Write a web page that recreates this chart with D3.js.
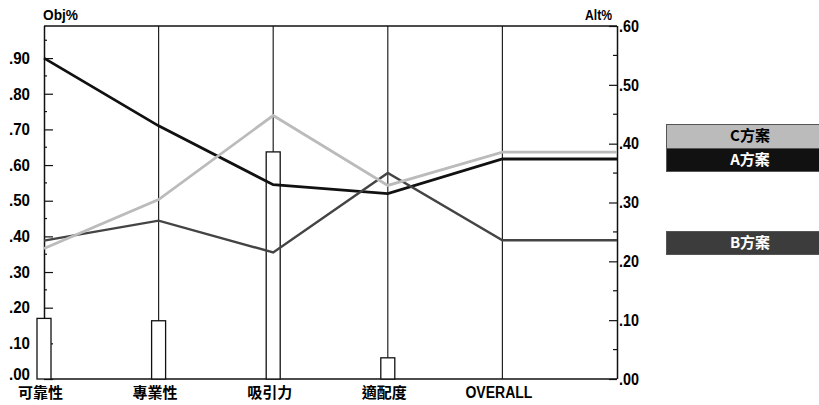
<!DOCTYPE html>
<html><head><meta charset="utf-8">
<script src="https://cdn.jsdelivr.net/npm/d3@7"></script>
<style>
html,body{margin:0;padding:0;background:#fff;}
svg{display:block;}
.num{font-family:"Liberation Sans Narrow","Liberation Sans",Arial,sans-serif;font-weight:bold;font-size:16px;fill:#000;}
.cjk{font-family:"Noto Sans CJK TC","Noto Sans CJK SC",sans-serif;font-weight:bold;font-size:15px;}
</style></head>
<body>
<svg id="c" width="819" height="405"></svg>
<script>
const categories = ["可靠性","專業性","吸引力","適配度","OVERALL"];
const seriesNames = ["A方案","B方案","C方案"];
const seriesA = [0.90, 0.71, 0.545, 0.52, 0.617];
const seriesB = [0.388, 0.444, 0.355, 0.578, 0.389];
const seriesC = [0.366, 0.503, 0.739, 0.543, 0.636];
const altBars = [0.103, 0.099, 0.386, 0.036, null];
const leftTicks = [0,0.1,0.2,0.3,0.4,0.5,0.6,0.7,0.8,0.9];
const leftTickLabels = [".00",".10",".20",".30",".40",".50",".60",".70",".80",".90"];
const rightTicks = [0,0.1,0.2,0.3,0.4,0.5,0.6];
const rightTickLabels = [".00",".10",".20",".30",".40",".50",".60"];

const svg = d3.select("#c");
const L = 44, R = 617, T = 26, B = 379;
const slots = categories.concat(["__end"]);
const x = d3.scalePoint().domain(slots).range([L, R]);
const yL = d3.scaleLinear().domain([0, 0.99]).range([B, T]);
const yR = d3.scaleLinear().domain([0, 0.6]).range([B, T]);

// vertical category lines
svg.append("g").selectAll("line").data(categories.slice(1)).join("line")
  .attr("x1", d => x(d)).attr("x2", d => x(d)).attr("y1", T).attr("y2", B)
  .attr("stroke", "#222").attr("stroke-width", 1.2);

// frame
svg.append("line").attr("x1", L).attr("x2", R).attr("y1", T).attr("y2", T).attr("stroke","#111").attr("stroke-width",1.5);
svg.append("line").attr("x1", L).attr("x2", R).attr("y1", B).attr("y2", B).attr("stroke","#111").attr("stroke-width",1.5);

// left axis
const minorL = d3.range(0.05, 0.99, 0.1);
const gL = svg.append("g").attr("transform", `translate(${L},0)`)
  .call(d3.axisRight(yL).tickValues(leftTicks).tickSize(9).tickFormat("").tickSizeOuter(0));
gL.select(".domain").attr("stroke","#111").attr("stroke-width",1.5).attr("d", `M0.5,${T}V${B}`);
gL.selectAll(".tick line").attr("stroke","#111").attr("stroke-width",1.2);
svg.append("g").selectAll("line").data(minorL).join("line")
  .attr("x1", L).attr("x2", L + 3).attr("y1", d => yL(d)).attr("y2", d => yL(d)).attr("stroke","#111").attr("stroke-width",1.2);
svg.append("g").selectAll("text").data(leftTicks).join("text").attr("class","num")
  .attr("x", 30).attr("y", d => d === 0 ? yL(d) - 5 : yL(d)).attr("dy","0.36em").attr("text-anchor","end")
  .attr("textLength", 21).attr("lengthAdjust","spacingAndGlyphs")
  .text((d,i) => leftTickLabels[i]);

// right axis
const minorR = d3.range(0.05, 0.6, 0.1);
const gR = svg.append("g").attr("transform", `translate(${R},0)`)
  .call(d3.axisLeft(yR).tickValues(rightTicks).tickSize(8).tickFormat("").tickSizeOuter(0));
gR.select(".domain").attr("stroke","#111").attr("stroke-width",1.5).attr("d", `M0.5,${T}V${B}`);
gR.selectAll(".tick line").attr("stroke","#111").attr("stroke-width",1.2);
svg.append("g").selectAll("line").data(minorR).join("line")
  .attr("x1", R - 4).attr("x2", R).attr("y1", d => yR(d)).attr("y2", d => yR(d)).attr("stroke","#111").attr("stroke-width",1.2);
svg.append("g").selectAll("text").data(rightTicks).join("text").attr("class","num")
  .attr("x", 619).attr("y", d => yR(d)).attr("dy","0.36em").attr("text-anchor","start")
  .attr("textLength", 20).attr("lengthAdjust","spacingAndGlyphs")
  .text((d,i) => rightTickLabels[i]);

// axis titles
svg.append("text").attr("class","num").attr("x", 43).attr("y", 20).style("font-size","14px")
  .attr("textLength", 35).attr("lengthAdjust","spacingAndGlyphs").text("Obj%");
svg.append("text").attr("class","num").attr("x", 585).attr("y", 20).style("font-size","14px")
  .attr("textLength", 27).attr("lengthAdjust","spacingAndGlyphs").text("Alt%");

// bars (Alt%)
const bw = 14;
svg.append("g").selectAll("rect").data(categories.map((c,i)=>({c, v: altBars[i]})).filter(d => d.v != null)).join("rect")
  .attr("x", d => x(d.c) - bw/2).attr("width", bw)
  .attr("y", d => yR(d.v)).attr("height", d => yR(0) - yR(d.v))
  .attr("fill","#fff").attr("stroke","#111").attr("stroke-width",1.3);

// lines
const line = d3.line().x(d => x(d.k)).y(d => yL(d.v));
function pts(arr){ const p = categories.map((k,i)=>({k, v: arr[i]})); p.push({k:"__end", v: arr[arr.length-1]}); return p; }
const series = [
  {name: seriesNames[0], vals: seriesA, color:"#111", w: 2.8},
  {name: seriesNames[1], vals: seriesB, color:"#444", w: 2.4},
  {name: seriesNames[2], vals: seriesC, color:"#bbb", w: 2.8}
];
svg.append("g").selectAll("path").data(series).join("path")
  .attr("d", d => line(pts(d.vals))).attr("fill","none")
  .attr("stroke", d => d.color).attr("stroke-width", d => d.w).attr("stroke-linejoin","miter");

// category labels
const catText = svg.append("g").selectAll("text").data(categories).join("text")
  .attr("class", d => d === "OVERALL" ? "num" : "cjk")
  .attr("x", d => x(d) - 3.5).attr("y", 398).attr("text-anchor","middle")
  .text(d => d);
catText.filter(d => d === "OVERALL").attr("textLength", 67).attr("lengthAdjust","spacingAndGlyphs");

// legend
const legend = [
  {name: seriesNames[2], y: 124, h: 24, fill:"#bbb", text:"#000"},
  {name: seriesNames[0], y: 148, h: 23, fill:"#111", text:"#fff"},
  {name: seriesNames[1], y: 231, h: 23, fill:"#3c3c3c", text:"#fff"}
];
const lg = svg.append("g").selectAll("g").data(legend).join("g");
lg.append("rect").attr("x", 666.5).attr("y", d => d.y + 0.5).attr("width", 170).attr("height", d => d.h)
  .attr("fill", d => d.fill).attr("stroke","#555").attr("stroke-width",1);
lg.append("text").attr("class","cjk").attr("x", 750).attr("y", d => d.y + d.h/2).attr("dy","0.36em")
  .attr("text-anchor","middle").style("font-size","15px").attr("fill", d => d.text).text(d => d.name);
</script>
</body></html>
